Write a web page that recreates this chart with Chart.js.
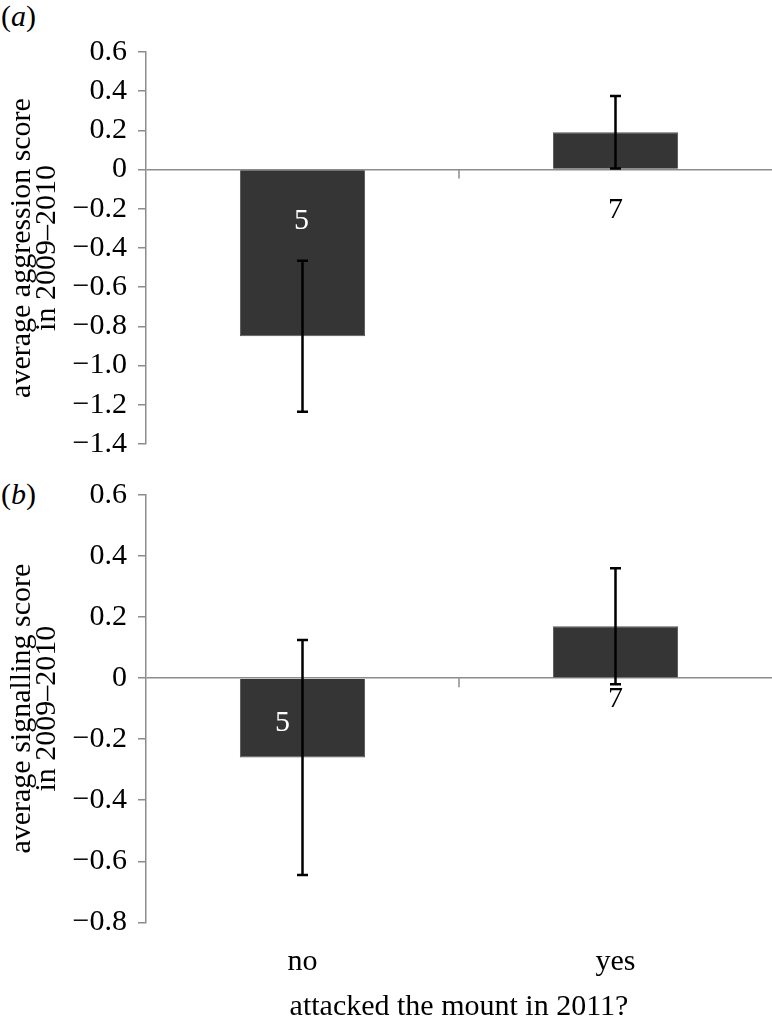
<!DOCTYPE html>
<html><head><meta charset="utf-8">
<script src="https://cdn.jsdelivr.net/npm/chart.js@4"></script>
<style>
html,body{margin:0;padding:0;background:#fff;}
body{width:772px;height:1030px;position:relative;overflow:hidden;font-family:"Liberation Serif","Times New Roman",serif;}
.panel{position:absolute;left:0;width:772px;}
#wa{top:0;height:475px}
#wb{top:460px;height:570px}
.lab{position:absolute;left:1px;font-size:30px;line-height:1;color:#000;font-family:"Liberation Serif","Times New Roman",serif;}
</style></head><body>
<div class="lab" style="top:1px">(<i>a</i>)</div>
<div class="lab" style="top:479px">(<i>b</i>)</div>
<div id="wa" class="panel"><canvas id="ca"></canvas></div>
<div id="wb" class="panel"><canvas id="cb"></canvas></div>
<script>
const categories = ['no', 'yes'];
const aggressionMeans = [-0.85, 0.19];
const aggressionErrors = [0.385, 0.185];
const signallingMeans = [-0.26, 0.17];
const signallingErrors = [0.385, 0.19];
const sampleSizes = [5, 7];
const aggressionTicks = [-1.4, -1.2, -1.0, -0.8, -0.6, -0.4, -0.2, 0, 0.2, 0.4, 0.6];
const aggressionTickLabels = ['−1.4', '−1.2', '−1.0', '−0.8', '−0.6', '−0.4', '−0.2', '0', '0.2', '0.4', '0.6'];
const signallingTicks = [-0.8, -0.6, -0.4, -0.2, 0, 0.2, 0.4, 0.6];
const signallingTickLabels = ['−0.8', '−0.6', '−0.4', '−0.2', '0', '0.2', '0.4', '0.6'];
const aggressionTitle = ['average aggression score', 'in 2009–2010'];
const signallingTitle = ['average signalling score', 'in 2009–2010'];
const xTitle = 'attacked the mount in 2011?';

const FONT = '"Liberation Serif", "Times New Roman", serif';
const FSIZE = 30;
const AXIS = '#8c8c8c';
const BAR = '#353535';

const errorBarPlugin = {
  id: 'errbars',
  afterDatasetsDraw(chart, args, opts) {
    const {ctx} = chart;
    const x = chart.scales.x, y = chart.scales.y;
    const meta = chart.getDatasetMeta(0);
    const vals = chart.data.datasets[0].data;
    const y0 = y.getPixelForValue(0);
    ctx.save();
    const xm = (x.getPixelForValue(0) + x.getPixelForValue(1)) / 2;
    ctx.strokeStyle = AXIS; ctx.lineWidth = 1.5;
    ctx.beginPath(); ctx.moveTo(xm, y0); ctx.lineTo(xm, y0 + 9); ctx.stroke();
    ctx.strokeStyle = '#000'; ctx.lineWidth = 2.5;
    meta.data.forEach((bar, i) => {
      const cx = bar.x;
      const yHi = y.getPixelForValue(vals[i] + opts.errors[i]);
      const yLo = y.getPixelForValue(vals[i] - opts.errors[i]);
      ctx.beginPath();
      ctx.moveTo(cx, yHi); ctx.lineTo(cx, yLo);
      ctx.moveTo(cx - 5.5, yHi); ctx.lineTo(cx + 5.5, yHi);
      ctx.moveTo(cx - 5.5, yLo); ctx.lineTo(cx + 5.5, yLo);
      ctx.stroke();
    });
    ctx.font = FSIZE + 'px ' + FONT;
    ctx.textAlign = 'center'; ctx.textBaseline = 'middle';
    opts.counts.forEach((n, i) => {
      const p = opts.place[i];
      ctx.fillStyle = p.color;
      ctx.fillText(String(n), meta.data[i].x + p.dx, y0 + p.dy);
    });
    ctx.restore();
  }
};

function makeChart(id, means, errors, tickVals, tickLabels, yTitle, showX, padding, xHeight, place) {
  const ymin = Math.min(...tickVals), ymax = Math.max(...tickVals);
  return new Chart(document.getElementById(id), {
    type: 'bar',
    data: {
      labels: categories,
      datasets: [{
        data: means,
        backgroundColor: BAR,
        borderColor: '#555555',
        borderWidth: 1,
        barPercentage: 0.5,
        categoryPercentage: 0.8
      }]
    },
    options: {
      responsive: true,
      maintainAspectRatio: false,
      animation: false,
      layout: {padding: padding},
      plugins: {
        legend: {display: false},
        tooltip: {enabled: false},
        errbars: {errors: errors, counts: sampleSizes, place: place}
      },
      scales: {
        x: {
          display: showX,
          offset: true,
          afterFit: (s) => { s.height = xHeight; },
          grid: {display: false, drawTicks: false},
          border: {display: false},
          ticks: {color: '#000', padding: 22.3, font: {family: FONT, size: FSIZE}, maxRotation: 0},
          title: {display: true, text: xTitle, color: '#000', font: {family: FONT, size: FSIZE}, padding: {top: 8, bottom: 4.6}}
        },
        y: {
          min: ymin, max: ymax,
          afterBuildTicks: (s) => { s.ticks = tickVals.map(v => ({value: v})); },
          afterFit: (s) => { s.width = 146; },
          ticks: {
            color: '#000', padding: 11, font: {family: FONT, size: FSIZE},
            callback: (v) => {
              const k = tickVals.findIndex(t => Math.abs(t - v) < 1e-9);
              return k >= 0 ? tickLabels[k] : '';
            }
          },
          grid: {
            color: (c) => (c.tick && Math.abs(c.tick.value) < 1e-9) ? AXIS : 'rgba(0,0,0,0)',
            tickColor: AXIS, tickLength: 8, lineWidth: 1.5, drawOnChartArea: true
          },
          border: {display: true, color: AXIS, width: 1.5},
          title: {display: true, text: yTitle, color: '#000', font: {family: FONT, size: FSIZE, lineHeight: 0.84}, padding: {top: 9.5, bottom: 0}}
        }
      }
    },
    plugins: [errorBarPlugin]
  });
}

makeChart('ca', aggressionMeans, aggressionErrors, aggressionTicks, aggressionTickLabels, aggressionTitle, false,
  {top: 52, bottom: 31, left: 0, right: 0}, 0,
  [{dx: -1, dy: 52, color: '#ffffff'}, {dx: 0, dy: 41, color: '#000000'}]);
makeChart('cb', signallingMeans, signallingErrors, signallingTicks, signallingTickLabels, signallingTitle, true,
  {top: 35, bottom: 0, left: 0, right: 0}, 107.7,
  [{dx: -20, dy: 45, color: '#ffffff'}, {dx: 0, dy: 21, color: '#000000'}]);
</script>
</body></html>
